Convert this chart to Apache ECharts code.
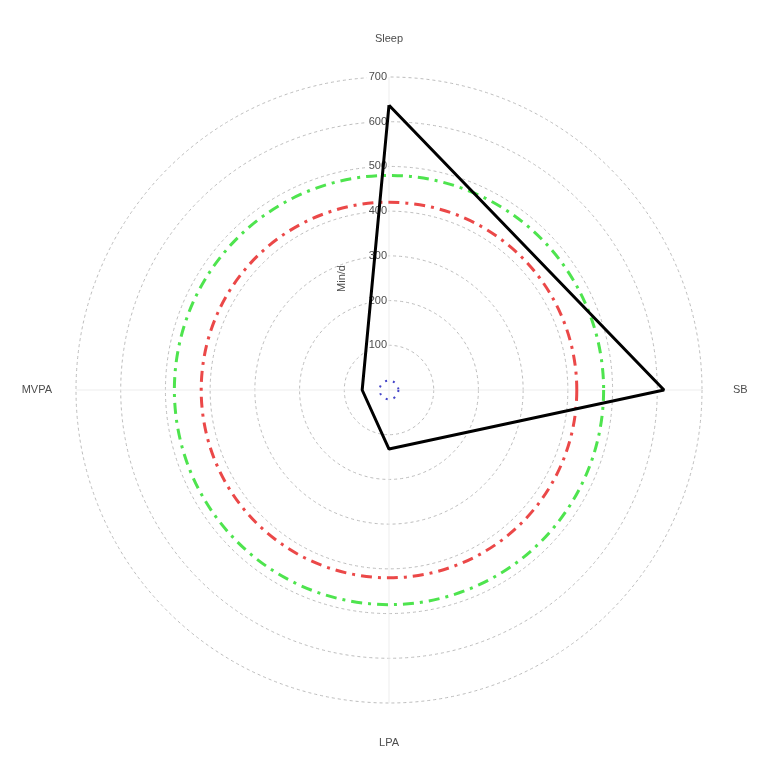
<!DOCTYPE html>
<html>
<head>
<meta charset="utf-8">
<script src="https://cdn.jsdelivr.net/npm/echarts@6/dist/echarts.min.js"></script>
<style>
  html, body { margin: 0; padding: 0; background: #fff; }
  #chart { width: 779px; height: 780px; }
</style>
</head>
<body>
<div id="chart"></div>
<script>
// 类别 & 数据
var categories = ['Sleep', 'SB', 'LPA', 'MVPA']
var minPerDay = [637, 615, 132, 60]
var radiusTicks = [0, 100, 200, 300, 400, 500, 600, 700]
// 参考圆 (min/d)
var refGreen = [480]
var refRed = [420]
var refBlue = [21]

var chart = echarts.init(document.getElementById('chart'))

// 每个类别占 90 度, 闭合折线
var step = 360 / categories.length
var lineData = categories.map(function (c, i) { return [minPerDay[i], i * step] })
lineData.push([minPerDay[0], 360])

function circleSeries(vals, color, width, dash) {
  return {
    type: 'custom',
    coordinateSystem: 'polar',
    silent: true,
    z: 5,
    data: vals.map(function (v) { return [v, 0] }),
    renderItem: function (params, api) {
      var cs = params.coordSys
      var p = api.coord([api.value(0), 0])
      var r = Math.sqrt(Math.pow(p[0] - cs.cx, 2) + Math.pow(p[1] - cs.cy, 2))
      return {
        type: 'circle',
        shape: { cx: cs.cx, cy: cs.cy, r: r },
        style: { fill: null, stroke: color, lineWidth: width, lineDash: dash },
      }
    },
  }
}

var labelFont = { color: '#4d4d4d', fontSize: 11, fontFamily: 'Liberation Sans' }

var option = {
  backgroundColor: '#fff',
  animation: false,
  polar: {
    center: [389, 390],
    radius: 313,
  },
  angleAxis: {
    type: 'value',
    min: 0,
    max: 360,
    interval: step,
    startAngle: 90,
    clockwise: true,
    axisLine: { show: false },
    axisTick: { show: false },
    axisLabel: Object.assign({
      margin: 24,
      formatter: function (v) {
        var name = categories[Math.round(v / step)]
        if (!name || v >= 360) return ''
        return '{c' + Math.round(v / step) + '|' + name + '}'
      },
      rich: {
        c0: Object.assign({ padding: [0, 0, 9, 0] }, labelFont),
        c1: Object.assign({ padding: [0, 0, 0, 7] }, labelFont),
        c2: Object.assign({ padding: [10, 0, 0, 0] }, labelFont),
        c3: Object.assign({ padding: [0, 0, 0, 0] }, labelFont),
      },
    }, labelFont),
    splitLine: { show: true, lineStyle: { color: '#ededed', width: 1 } },
  },
  radiusAxis: {
    min: radiusTicks[0],
    max: radiusTicks[radiusTicks.length - 1],
    interval: 100,
    name: 'Min/d',
    nameLocation: 'middle',
    nameRotate: 90,
    nameGap: -53,
    nameTextStyle: Object.assign({ padding: [0, 90, 0, 0] }, labelFont),
    axisLine: { show: false },
    axisTick: { show: false },
    axisLabel: Object.assign({
      margin: 1,
      backgroundColor: '#fff',
      padding: [0, 1, 0, 2],
      formatter: function (v) { return v === 0 ? '' : v },
    }, labelFont),
    splitLine: { show: true, lineStyle: { color: '#bdbdbd', width: 1, type: [3, 3] } },
  },
  series: [
    circleSeries(refGreen, '#4ee44e', 3, [11, 6, 3, 6]),
    circleSeries(refRed, '#eb4848', 3, [11, 6, 3, 6]),
    circleSeries(refBlue, '#4545c8', 2, [2, 6]),
    {
      type: 'line',
      coordinateSystem: 'polar',
      z: 10,
      data: lineData,
      symbol: 'none',
      lineStyle: { color: '#000', width: 3 },
      silent: true,
    },
  ],
}

chart.setOption(option)
</script>
</body>
</html>
